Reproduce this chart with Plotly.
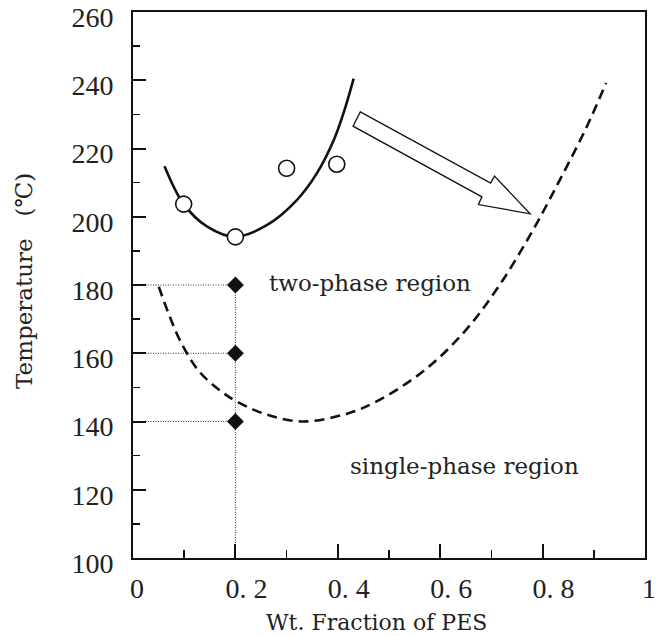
import plotly.graph_objects as go

# ---- data ----
upper_x = [0.0615, 0.099, 0.145, 0.20, 0.262, 0.320, 0.359, 0.392, 0.411, 0.431]
upper_y = [214.8, 203.7, 197.1, 194.1, 197.6, 204.9, 212.7, 222.4, 230.3, 240.5]

cloud_x = [0.099, 0.20, 0.30, 0.398]
cloud_y = [203.7, 194.1, 214.2, 215.4]

lower_x = [0.0504, 0.0699, 0.0927, 0.1285, 0.1707, 0.2033, 0.2618, 0.333, 0.418,
           0.476, 0.5675, 0.6455, 0.7106, 0.7756, 0.834, 0.886, 0.924]
lower_y = [179.5, 171.5, 163.5, 154.8, 149.0, 145.8, 142.0, 140.0, 142.3,
           145.9, 154.8, 166.0, 178.8, 194.6, 210.9, 226.3, 239.2]

quench_x = [0.2, 0.2, 0.2]
quench_y = [180, 160, 140]

x_tickvals = [0, 0.2, 0.4, 0.6, 0.8, 1]
x_ticktext = ["0", "\u00a0\u00a00. 2", "\u00a0\u00a00. 4", "\u00a0\u00a00. 6", "\u00a0\u00a00. 8", "1"]
y_tickvals = [100, 120, 140, 160, 180, 200, 220, 240, 260]
y_ticktext = [str(v) for v in y_tickvals]

arrow_x = [0.4439, 0.6985, 0.7060, 0.7756, 0.6747, 0.6814, 0.4297]
arrow_y = [230.73, 209.85, 211.9, 200.87, 203.56, 205.84, 226.54]

X_MIN, Y_MIN = 0, 100

SERIF = "DejaVu Serif"
TICKFONT = "Liberation Serif"

fig = go.Figure()

# dotted guide lines (horizontal to the y axis and vertical to the x axis)
gx, gy = [], []
for yv in quench_y:
    gx += [X_MIN, quench_x[0], None]
    gy += [yv, yv, None]
gx += [quench_x[0], quench_x[0]]
gy += [Y_MIN, max(quench_y)]
fig.add_trace(go.Scatter(x=gx, y=gy, mode="lines",
                         line=dict(color="#333", width=1, dash="1px,1.5px"),
                         hoverinfo="skip", showlegend=False))

fig.add_trace(go.Scatter(x=lower_x, y=lower_y, mode="lines", line_shape="spline",
                         line=dict(color="#111", width=2.6, dash="10px,6px"),
                         showlegend=False))

fig.add_trace(go.Scatter(x=upper_x, y=upper_y, mode="lines", line_shape="spline",
                         line=dict(color="#111", width=2.6), showlegend=False))

fig.add_trace(go.Scatter(x=cloud_x, y=cloud_y, mode="markers",
                         marker=dict(symbol="circle", size=16, color="white",
                                     line=dict(color="#111", width=1.6)),
                         showlegend=False))

fig.add_trace(go.Scatter(x=quench_x, y=quench_y, mode="markers",
                         marker=dict(symbol="diamond", size=13, color="#111",
                                     line=dict(width=0)),
                         showlegend=False))

# hollow arrow
path = "M " + " L ".join(f"{x},{y}" for x, y in zip(arrow_x, arrow_y)) + " Z"
fig.add_shape(type="path", path=path, xref="x", yref="y",
              line=dict(color="#111", width=1.3), fillcolor="white")

fig.add_annotation(x=0.463, y=180.5, text="two-phase region", showarrow=False,
                   font=dict(family=SERIF, size=23, color="#222"),
                   xanchor="center", yanchor="middle")
fig.add_annotation(x=0.647, y=127, text="single-phase region", showarrow=False,
                   font=dict(family=SERIF, size=23, color="#222"),
                   xanchor="center", yanchor="middle")

# axis titles
fig.add_annotation(xref="paper", yref="paper", x=0.5, y=0, xshift=-13, yshift=-64,
                   text="Wt. Fraction of PES", showarrow=False,
                   font=dict(family=SERIF, size=22, color="#222"),
                   xanchor="center", yanchor="middle")
fig.add_annotation(xref="paper", yref="paper", x=0, y=0.5, xshift=-109, yshift=4,
                   text="Temperature\u00a0\u00a0\u00a0(\u2103)", textangle=-90, showarrow=False,
                   font=dict(family=SERIF, size=23, color="#222"),
                   xanchor="center", yanchor="middle")

axis_common = dict(showgrid=False, zeroline=False, showline=True, linecolor="#111",
                   linewidth=2, mirror=True, ticks="inside", tickcolor="#111",
                   tickwidth=2, ticklabeloverflow="allow",
                   tickfont=dict(family=TICKFONT, size=28, color="#222"))

fig.update_xaxes(range=[0, 1], tickmode="array", tickvals=x_tickvals, ticktext=x_ticktext,
                 ticklen=14, ticklabelstandoff=4, ticklabelshift=4,
                 minor=dict(dtick=0.1, ticks="inside", ticklen=8, tickwidth=1.5,
                            tickcolor="#111"),
                 **axis_common)
fig.update_yaxes(range=[100, 260], tickmode="array", tickvals=y_tickvals, ticktext=y_ticktext,
                 ticklen=13, ticklabelstandoff=12, ticklabelshift=5,
                 minor=dict(dtick=10, ticks="inside", ticklen=7, tickwidth=1.5,
                            tickcolor="#111"),
                 **axis_common)

fig.update_layout(width=663, height=636,
                  margin=dict(l=133, r=18, t=12, b=78, autoexpand=False),
                  plot_bgcolor="white", paper_bgcolor="white", showlegend=False)

fig.write_html("out.html",
               config={"displayModeBar": False, "staticPlot": True},
               post_script="document.body.style.margin='0';document.body.style.padding='0';"
                           "document.body.style.overflow='hidden';")
